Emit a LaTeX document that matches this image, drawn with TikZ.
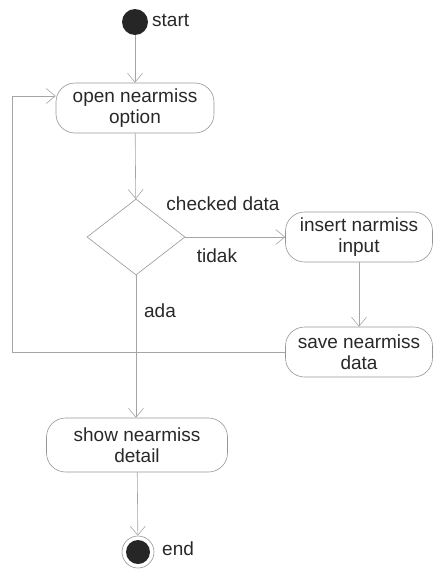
\documentclass[tikz,border=0pt]{standalone}
\usepackage{fontspec}
\setmainfont{Liberation Sans}
\usetikzlibrary{shapes.geometric,arrows.meta}
\definecolor{linegray}{RGB}{165,165,165}
\definecolor{boxgray}{RGB}{150,150,150}
\definecolor{txtgray}{RGB}{40,40,40}

\begin{document}
\begin{tikzpicture}[x=1pt,y=-1pt]
            \tikzstyle{every node}+=[inner sep=0pt, text=txtgray, font=\fontsize{19}{21.5}\selectfont]
            \tikzstyle{act}=[draw=boxgray, line width=0.6pt, rounded corners=19pt, align=center, minimum height=50pt]
            \tikzstyle{flow}=[draw=linegray, line width=0.6pt, -{Straight Barb[length=9pt,width=15pt]}]
            \useasboundingbox (0,0) rectangle (435,570);
            \node [circle, fill=black!85, minimum size=26pt] (start) at (135,22) {};
            \node [right] (startlbl) at (152,20) {start};
            \node [act, minimum width=158pt] (open) at (135,108) {open nearmiss\\option};
            \node [diamond, draw=boxgray, line width=0.6pt, minimum width=98pt, minimum height=76pt] (dec) at (136,237) {};
            \node [act, minimum width=147pt] (insert) at (359,237) {insert narmiss\\input};
            \node [act, minimum width=147pt] (save) at (359,352) {save nearmiss\\data};
            \node [act, minimum width=181pt, minimum height=54pt] (show) at (137,445) {show nearmiss\\detail};
            \node [circle, draw=boxgray, line width=0.6pt, minimum size=32pt] (end) at (138,552) {};
            \fill [black!85] (end) circle (12);
            \node [right] (endlbl) at (162,549) {end};
            \node (chk) at (223,204) {checked data};
            \node (tidak) at (217,256) {tidak};
            \node (ada) at (160,311) {ada};
            \coordinate (loopc) at (12,96);
            \draw [flow] (start) -- (open);
            \draw [flow] (open) -- (dec);
            \draw [flow] (dec) -- (insert);
            \draw [flow] (insert) -- (save);
            \draw [flow] (save.west) -| (loopc) -- (loopc -| open.west);
            \draw [flow] (dec) -- (dec |- show.north);
            \draw [flow] (show) -- (end);
\end{tikzpicture}
\end{document}
